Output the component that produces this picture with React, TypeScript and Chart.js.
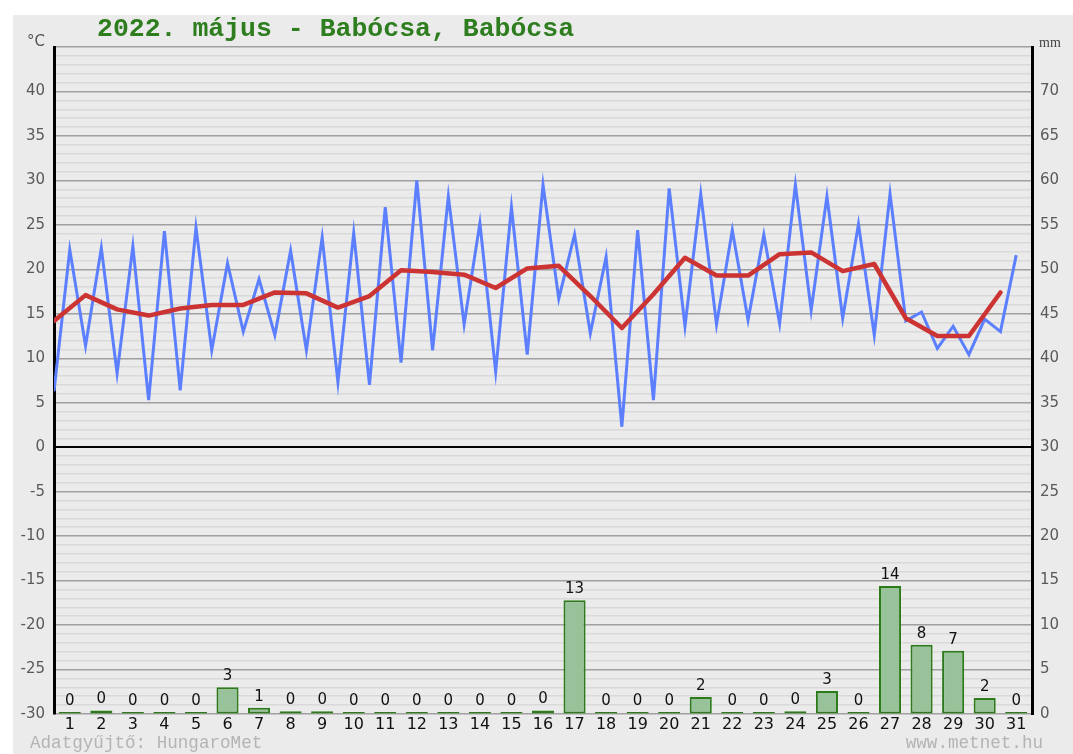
import React, { useEffect, useRef } from 'react';
import { Chart, registerables } from 'chart.js';

Chart.register(...registerables);

const days = [1, 2, 3, 4, 5, 6, 7, 8, 9, 10, 11, 12, 13, 14, 15, 16, 17, 18, 19, 20, 21, 22, 23, 24, 25, 26, 27, 28, 29, 30, 31];

// daily minimum temperature (°C), plotted at start of day
const tMin = [6.3, 11.4, 8.3, 5.3, 6.4, 10.9, 13.0, 12.6, 10.9, 7.3, 7.0, 9.5, 10.9, 13.8, 8.5, 10.4, 16.7, 12.8, 2.3, 5.3, 13.6, 13.8, 14.3, 13.9, 15.4, 14.5, 12.6, 14.2, 11.1, 10.4, 13.0];
// daily maximum temperature (°C), plotted at mid-day
const tMax = [22.2, 22.4, 22.6, 24.3, 24.7, 20.7, 18.9, 22.1, 23.6, 24.1, 27.0, 30.0, 28.2, 25.2, 27.0, 29.5, 23.9, 21.4, 24.4, 29.1, 28.5, 24.4, 23.9, 29.5, 28.2, 25.1, 28.5, 15.2, 13.6, 14.4, 21.6];
// daily mean temperature (°C)
const tMean = [14.2, 17.1, 15.5, 14.8, 15.6, 16.0, 16.0, 17.4, 17.3, 15.7, 17.0, 19.9, 19.7, 19.4, 17.9, 20.1, 20.4, 17.0, 13.4, 17.2, 21.3, 19.3, 19.3, 21.7, 21.9, 19.8, 20.6, 14.5, 12.5, 12.5, 17.4];
// daily precipitation (mm)
const precip = [0, 0.4, 0, 0, 0, 3.0, 0.7, 0.3, 0.3, 0, 0, 0, 0, 0, 0, 0.4, 12.8, 0, 0, 0, 1.9, 0, 0, 0.3, 2.6, 0.1, 14.4, 7.8, 7.1, 1.8, 0];

const tempTickLabels = [-30, -25, -20, -15, -10, -5, 0, 5, 10, 15, 20, 25, 30, 35, 40];
const mmTickLabels = [0, 5, 10, 15, 20, 25, 30, 35, 40, 45, 50, 55, 60, 65, 70];

const TITLE = '2022. május - Babócsa, Babócsa';
const FOOT_LEFT = 'Adatgyűjtő: HungaroMet';
const FOOT_RIGHT = 'www.metnet.hu';

const bgPlugin = {
  id: 'bgPlugin',
  beforeDraw(chart: any) {
    const { ctx, width, height } = chart;
    ctx.save();
    ctx.fillStyle = '#ffffff';
    ctx.fillRect(0, 0, width, height);
    ctx.fillStyle = '#ebebeb';
    ctx.fillRect(13, 15, width - 13, height - 15);
    ctx.restore();
  },
};

const barLabelPlugin = {
  id: 'barLabelPlugin',
  afterDatasetsDraw(chart: any) {
    const meta = chart.getDatasetMeta(0);
    const ctx = chart.ctx;
    ctx.save();
    ctx.font = '15px "DejaVu Sans"';
    ctx.fillStyle = '#111111';
    ctx.textAlign = 'center';
    ctx.textBaseline = 'alphabetic';
    meta.data.forEach((el: any, i: number) => {
      ctx.fillText(String(Math.round(precip[i])), el.x, el.y - 7);
    });
    ctx.restore();
  },
};

const textPlugin = {
  id: 'textPlugin',
  afterDraw(chart: any) {
    const ctx = chart.ctx;
    const area = chart.chartArea;
    ctx.save();
    ctx.textBaseline = 'alphabetic';
    ctx.textAlign = 'left';
    ctx.fillStyle = '#2e7d1e';
    ctx.font = 'bold 26.5px "Liberation Mono"';
    ctx.fillText(TITLE, 97, 36);

    ctx.fillStyle = '#555555';
    ctx.font = '15px "DejaVu Sans"';
    ctx.textAlign = 'right';
    ctx.fillText('°C', area.left - 9, 46);

    ctx.textAlign = 'left';
    ctx.fillStyle = '#444444';
    ctx.font = '14px "Liberation Serif"';
    ctx.fillText('mm', area.right + 7, 47);

    ctx.fillStyle = '#b4b4b4';
    ctx.font = '17.6px "Liberation Mono"';
    ctx.textAlign = 'left';
    ctx.fillText(FOOT_LEFT, 30, 748);
    ctx.textAlign = 'right';
    ctx.fillText(FOOT_RIGHT, 1043, 748);
    ctx.restore();
  },
};

export default function App() {
  const ref = useRef<HTMLCanvasElement | null>(null);

  useEffect(() => {
    if (!ref.current) return;
    const rangeData = tMin.flatMap((v, i) => [
      { x: days[i] - 0.5, y: v },
      { x: days[i], y: tMax[i] },
    ]);
    const meanData = tMean.map((v, i) => ({ x: days[i] - 0.5, y: v }));
    const barData = precip.map((v, i) => ({ x: days[i], y: v }));

    const chart = new Chart(ref.current, {
      type: 'line',
      data: {
        datasets: [
          {
            type: 'bar',
            data: barData,
            yAxisID: 'yR',
            backgroundColor: '#98c29a',
            borderColor: '#2d7a1a',
            borderWidth: 2,
            borderSkipped: false,
            minBarLength: 2,
            barPercentage: 0.7,
            categoryPercentage: 1,
            grouped: false,
            order: 3,
          } as any,
          {
            type: 'line',
            data: rangeData,
            yAxisID: 'y',
            borderColor: '#5b7fff',
            borderWidth: 3,
            pointRadius: 0,
            tension: 0,
            borderJoinStyle: 'miter',
            order: 2,
          } as any,
          {
            type: 'line',
            data: meanData,
            yAxisID: 'y',
            borderColor: '#cc3333',
            borderWidth: 4.5,
            pointRadius: 0,
            tension: 0,
            borderJoinStyle: 'round',
            borderCapStyle: 'round',
            order: 1,
          } as any,
        ],
      },
      options: {
        animation: false,
        responsive: false,
        devicePixelRatio: 1,
        layout: { padding: { top: 47, left: 0, right: 0, bottom: 0 } },
        plugins: {
          legend: { display: false },
          tooltip: { enabled: false },
          title: { display: false },
        },
        scales: {
          x: {
            type: 'linear',
            position: 'bottom',
            min: 0.5,
            max: 31.5,
            offset: false,
            grid: { display: false, drawTicks: false },
            border: { display: false },
            afterBuildTicks: (s: any) => {
              s.ticks = days.map((d) => ({ value: d }));
            },
            ticks: {
              color: '#111111',
              font: { family: 'DejaVu Sans', size: 16 },
              padding: 1,
              autoSkip: false,
              maxRotation: 0,
              callback: (v: any) => String(v),
            },
            afterFit: (s: any) => { s.height = 40; },
          },
          y: {
            type: 'linear',
            position: 'left',
            min: -30,
            max: 45,
            ticks: {
              stepSize: 1,
              autoSkip: false,
              color: '#5a5a5a',
              font: { family: 'DejaVu Sans', size: 15 },
              padding: 9,
              callback: (v: any) => (tempTickLabels.includes(Number(v)) ? String(v) : ''),
            },
            grid: {
              drawTicks: false,
              color: (c: any) => {
                const v = c.tick ? c.tick.value : 1;
                if (v === 0) return '#000000';
                if (v % 5 === 0) return '#a0a0a0';
                return '#d9d9d9';
              },
              lineWidth: (c: any) => {
                const v = c.tick ? c.tick.value : 1;
                if (v === 0) return 2;
                return 1.5;
              },
            },
            border: { display: true, color: '#000000', width: 3 },
            afterFit: (s: any) => { s.width = 54; },
          },
          yR: {
            type: 'linear',
            position: 'right',
            min: 0,
            max: 75,
            ticks: {
              stepSize: 5,
              autoSkip: false,
              color: '#5a5a5a',
              font: { family: 'DejaVu Sans', size: 15 },
              padding: 8,
              callback: (v: any) => (mmTickLabels.includes(Number(v)) ? String(v) : ''),
            },
            grid: { drawOnChartArea: false, drawTicks: false },
            border: { display: true, color: '#000000', width: 3 },
            afterFit: (s: any) => { s.width = 41; },
          },
        },
      } as any,
      plugins: [bgPlugin, barLabelPlugin, textPlugin],
    });
    return () => chart.destroy();
  }, []);

  return (
    <div style={{ position: 'fixed', left: 0, top: 0, width: 1073, height: 754 }}>
      <canvas ref={ref} width={1073} height={754} style={{ width: 1073, height: 754, display: 'block' }} />
    </div>
  );
}
